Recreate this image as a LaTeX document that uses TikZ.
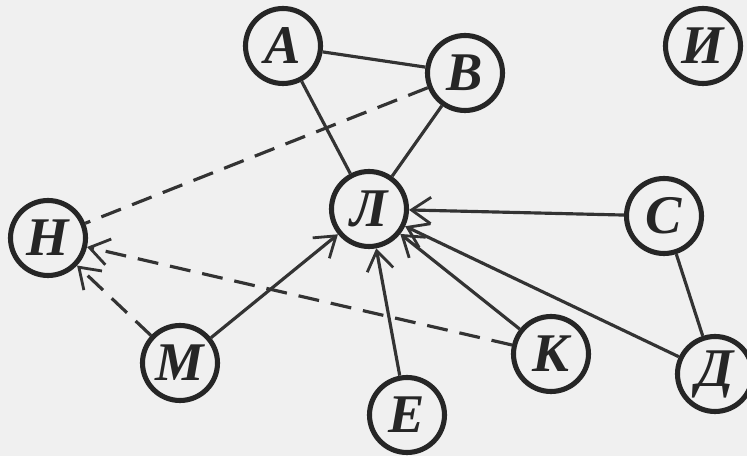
\documentclass[tikz,border=0pt]{standalone}
\usepackage{fontspec}
\setmainfont{Liberation Serif}
\usetikzlibrary{arrows.meta}
\begin{document}
\begin{tikzpicture}[%
% common options for the vertices:
vertex/.style = {circle, draw=black!85, line width=2.9pt, minimum size=1.5cm,
            inner sep=0, font=\fontsize{31}{31}\selectfont\bfseries\itshape,
            text=black!85},
% common options for the links:
link/.style = {draw=black!80, line width=1.8pt},
dlink/.style = {link, dash pattern=on 0.42cm off 0.24cm},
tip/.style = {-{Straight Barb[length=11pt,width=15pt,line width=1.6pt]}}]
\fill[black!6] (0,0) rectangle (14.94,9.12);
\useasboundingbox (0,0) rectangle (14.94,9.12);
\node[vertex] (A) at (5.66,8.20) {А};
\node[vertex] (B) at (9.30,7.66) {В};
\node[vertex] (I) at (14.06,8.20) {И};
\node[vertex] (L) at (7.38,4.94) {Л};
\node[vertex] (S) at (13.28,4.80) {С};
\node[vertex] (N) at (0.96,4.36) {Н};
\node[vertex] (M) at (3.60,1.86) {М};
\node[vertex] (K) at (11.02,2.04) {К};
\node[vertex] (D) at (14.30,1.64) {Д};
\node[vertex] (E) at (8.14,0.82) {Е};
\draw[link] (A) -- (B);
\draw[link] (A) -- (L);
\draw[link] (B) -- (L);
\draw[link] (S) -- (D);
\draw[dlink] (B) -- (N);
\draw[link,tip] (S) -- (L);
\draw[link,tip] (M) -- (L);
\draw[link,tip] (E) -- (L);
\draw[link,tip] (K) -- (L);
\draw[link,tip] (D) -- (L);
\draw[dlink,tip] (K) -- (N);
\draw[dlink,tip] (M) -- (N);
\end{tikzpicture}
\end{document}
